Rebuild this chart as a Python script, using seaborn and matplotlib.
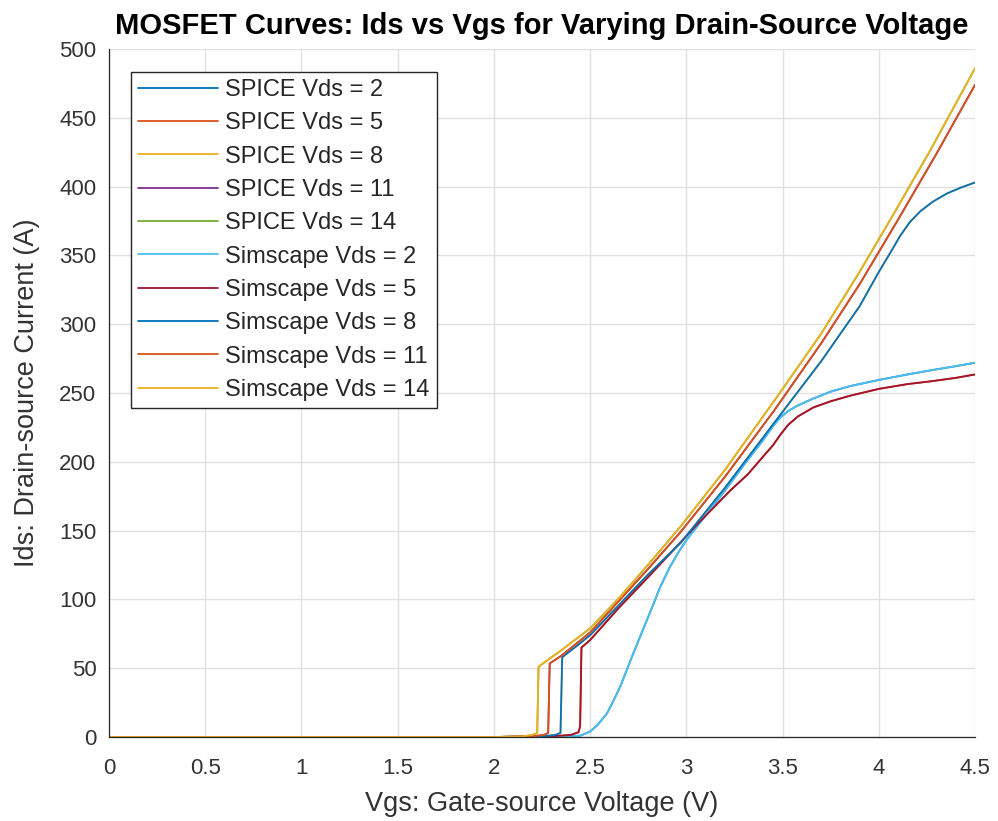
import numpy as np
import pandas as pd
import matplotlib
matplotlib.use("Agg")
import matplotlib.pyplot as plt
import seaborn as sns

# Curvas (Vgs en V, Ids en A)
vgs_vds2 = [0, 2.3, 2.45, 2.5, 2.54, 2.587, 2.62, 2.656, 2.69, 2.725, 2.76, 2.795,
            2.83, 2.864, 2.916, 2.96, 3.0, 3.1, 3.2, 3.3, 3.4, 3.45, 3.49, 3.53,
            3.58, 3.66, 3.75, 3.85, 4.0, 4.15, 4.27, 4.4, 4.5]
ids_vds2 = [0, 0, 1, 4, 9, 17, 26, 36.5, 48.5, 61, 73, 85,
            97, 109, 124, 134.5, 143, 161, 179, 198, 216, 226, 232.5, 237,
            241, 246, 251, 255, 259.5, 263.5, 266.5, 269.5, 272]

vgs_vds5 = [0, 2.0, 2.3, 2.4, 2.44, 2.448, 2.455, 2.5, 2.65, 2.8, 2.97, 3.07,
            3.227, 3.32, 3.40, 3.45, 3.49, 3.53, 3.58, 3.66, 3.75, 3.85, 4.0,
            4.15, 4.27, 4.4, 4.5]
ids_vds5 = [0, 0, 0.5, 1.5, 3.5, 8, 65, 70.5, 94, 116, 141.5, 156.5,
            179, 191, 204, 212, 220, 227, 233, 239.5, 244, 248, 253,
            256.5, 258.5, 261, 263.5]

vgs_vds8 = [0, 2.0, 2.25, 2.32, 2.346, 2.355, 2.42, 2.5, 2.65, 2.8, 2.97, 3.2,
            3.46, 3.7, 3.9, 4.0, 4.06, 4.11, 4.16, 4.215, 4.28, 4.354, 4.43, 4.5]
ids_vds8 = [0, 0, 0.5, 1.5, 3, 58, 65, 74, 96, 118, 141, 181,
            229, 273, 313, 338, 352, 364, 374, 382, 389, 395, 399.5, 403]

vgs_vds11 = [0, 2.0, 2.2, 2.26, 2.282, 2.29, 2.35, 2.5, 2.65, 2.8, 2.97, 3.2,
             3.46, 3.7, 3.9, 4.1, 4.3, 4.5]
ids_vds11 = [0, 0, 0.5, 1.5, 3, 53.5, 59, 76, 99, 122, 149, 189,
             238, 286, 329, 376, 424, 474]

vgs_vds14 = [0, 2.0, 2.15, 2.2, 2.225, 2.232, 2.26, 2.35, 2.5, 2.65, 2.8, 2.97,
             3.2, 3.46, 3.7, 3.9, 4.06, 4.27, 4.5]
ids_vds14 = [0, 0, 0.5, 1.5, 3, 51, 54, 63, 79, 101, 125, 153,
             194, 245, 293, 338, 376, 427, 486]

vds_valores = [2, 5, 8, 11, 14]
curvas = [(vgs_vds2, ids_vds2), (vgs_vds5, ids_vds5), (vgs_vds8, ids_vds8),
          (vgs_vds11, ids_vds11), (vgs_vds14, ids_vds14)]

# Colores por defecto de MATLAB
colores = ['#0072BD', '#D95319', '#EDB120', '#7E2F8E', '#77AC30',
           '#4DBEEE', '#A2142F', '#0072BD', '#D95319', '#EDB120']

# Tabla larga: SPICE y Simscape coinciden (Simscape se dibuja encima)
filas = []
etiquetas = []
for modelo in ['SPICE', 'Simscape']:
    for vds, (x, y) in zip(vds_valores, curvas):
        nombre = f"{modelo} Vds = {vds}"
        etiquetas.append(nombre)
        for xi, yi in zip(x, y):
            filas.append({'Vgs': xi, 'Ids': yi, 'curva': nombre})
df = pd.DataFrame(filas)
paleta = dict(zip(etiquetas, colores))

sns.set_theme(style="whitegrid")
plt.rcParams['font.family'] = ['Liberation Sans', 'DejaVu Sans']

fig = plt.figure(figsize=(9.98, 8.21), dpi=100)
ax = fig.add_axes([0.1092, 0.1023, 0.8678, 0.838])

sns.lineplot(data=df, x='Vgs', y='Ids', hue='curva', hue_order=etiquetas,
             palette=paleta, sort=False, estimator=None, linewidth=1.3, ax=ax)

ax.set_xlim(0, 4.5)
ax.set_ylim(0, 500)
ax.set_xticks(np.arange(0, 4.51, 0.5))
ax.set_yticks(np.arange(0, 501, 50))
ax.set_xticklabels(['0', '0.5', '1', '1.5', '2', '2.5', '3', '3.5', '4', '4.5'])
ax.tick_params(axis='both', direction='in', length=5, width=0.9,
               colors='#333333', labelsize=16)
ax.tick_params(axis='x', pad=15)
ax.tick_params(axis='y', pad=9)
ax.grid(True, color='#E0E0E0', linewidth=1.0)
ax.set_facecolor('white')
for lado in ['top', 'right']:
    ax.spines[lado].set_visible(False)
for lado in ['left', 'bottom']:
    ax.spines[lado].set_color('#262626')
    ax.spines[lado].set_linewidth(0.9)

ax.set_title("MOSFET Curves: Ids vs Vgs for Varying Drain-Source Voltage",
             fontsize=21, fontweight='bold', pad=11, color='black')
ax.set_xlabel("Vgs: Gate-source Voltage (V)", fontsize=19.5, color='#333333', labelpad=9)
ax.set_ylabel("Ids: Drain-source Current (A)", fontsize=19.5, color='#333333', labelpad=14)

handles, labels = ax.get_legend_handles_labels()
leg = ax.legend(handles, labels, loc='upper left', bbox_to_anchor=(0.0254, 0.9666),
                borderaxespad=0, fontsize=17, handlelength=3.4, handletextpad=0.3,
                labelspacing=0.48, borderpad=0.3,
                frameon=True, fancybox=False, edgecolor='#262626', framealpha=1)
leg.get_frame().set_linewidth(1.0)
for linea in leg.get_lines():
    linea.set_linewidth(1.3)

fig.savefig("out.png", dpi=100)
